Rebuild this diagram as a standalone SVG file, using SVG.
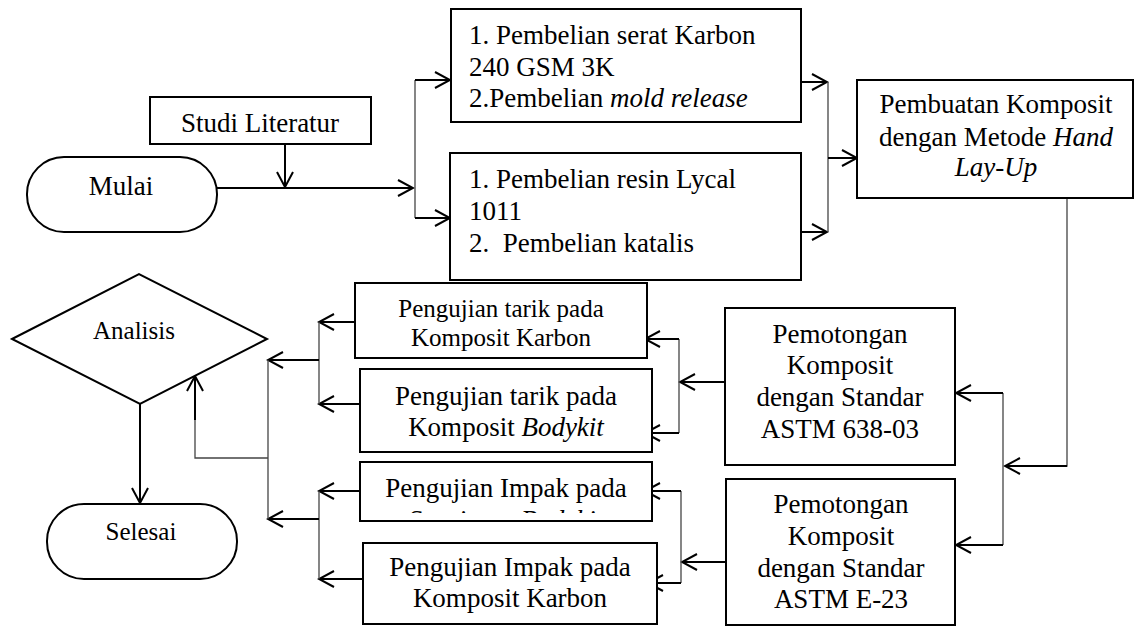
<svg xmlns="http://www.w3.org/2000/svg" width="1134" height="626" viewBox="0 0 1134 626">
<style>
.box{fill:#fff;stroke:#000;stroke-width:2}
.t{font-family:"Liberation Serif","Times New Roman",serif;font-size:27px;fill:#000}
.ts{font-family:"Liberation Serif","Times New Roman",serif;font-size:25px;fill:#000}
.c{text-anchor:middle}
.ln{fill:none;stroke:#000;stroke-width:2}
.thin{fill:none;stroke:#444;stroke-width:1.3}
</style>
<defs>
<marker id="arr" markerWidth="18" markerHeight="20" refX="16" refY="10" orient="auto" markerUnits="userSpaceOnUse">
<path d="M1,2 L16,10 L1,18" fill="none" stroke="#000" stroke-width="2"/>
</marker>
<clipPath id="clipP3"><rect x="360" y="462" width="292" height="51"/></clipPath>
</defs>

<g id="connectors">
<line class="ln" x1="285" y1="144" x2="285" y2="187" marker-end="url(#arr)"/>
<line class="ln" x1="217" y1="188" x2="413" y2="188" marker-end="url(#arr)"/>
<line class="thin" x1="415" y1="80" x2="415" y2="218"/>
<line class="ln" x1="415" y1="80" x2="450" y2="80" marker-end="url(#arr)"/>
<line class="ln" x1="415" y1="218" x2="450" y2="218" marker-end="url(#arr)"/>
<line class="ln" x1="801" y1="82" x2="827" y2="82" marker-end="url(#arr)"/>
<line class="ln" x1="801" y1="232" x2="827" y2="232" marker-end="url(#arr)"/>
<line class="thin" x1="828" y1="82" x2="828" y2="232"/>
<line class="ln" x1="828" y1="158" x2="857" y2="158" marker-end="url(#arr)"/>
<polyline class="thin" points="1067,198 1067,466 1005,466"/>
<line class="ln" x1="1067" y1="466" x2="1005" y2="466" marker-end="url(#arr)"/>
<line class="thin" x1="1003" y1="393" x2="1003" y2="545"/>
<line class="ln" x1="1003" y1="393" x2="956" y2="393" marker-end="url(#arr)"/>
<line class="ln" x1="1003" y1="545" x2="956" y2="545" marker-end="url(#arr)"/>
<line class="ln" x1="725" y1="382" x2="680" y2="382" marker-end="url(#arr)"/>
<line class="thin" x1="679" y1="339" x2="679" y2="433"/>
<line class="ln" x1="679" y1="339" x2="645" y2="339" marker-end="url(#arr)"/>
<line class="ln" x1="679" y1="433" x2="645" y2="433" marker-end="url(#arr)"/>
<line class="ln" x1="726" y1="562" x2="682" y2="562" marker-end="url(#arr)"/>
<line class="thin" x1="681" y1="491" x2="681" y2="583"/>
<line class="ln" x1="681" y1="491" x2="645" y2="491" marker-end="url(#arr)"/>
<line class="ln" x1="681" y1="583" x2="648" y2="583" marker-end="url(#arr)"/>
<line class="ln" x1="355" y1="322" x2="319" y2="322" marker-end="url(#arr)"/>
<line class="ln" x1="360" y1="404" x2="319" y2="404" marker-end="url(#arr)"/>
<line class="thin" x1="319" y1="322" x2="319" y2="404"/>
<line class="ln" x1="319" y1="360" x2="268" y2="360" marker-end="url(#arr)"/>
<line class="ln" x1="360" y1="491" x2="319" y2="491" marker-end="url(#arr)"/>
<line class="ln" x1="364" y1="579" x2="319" y2="579" marker-end="url(#arr)"/>
<line class="thin" x1="319" y1="491" x2="319" y2="579"/>
<line class="ln" x1="319" y1="519" x2="268" y2="519" marker-end="url(#arr)"/>
<line class="thin" x1="268" y1="360" x2="268" y2="519"/>
<polyline class="thin" points="268,458 195,458 195,420"/>
<line class="ln" x1="195" y1="420" x2="195" y2="376" marker-end="url(#arr)"/>
<line class="ln" x1="140" y1="404" x2="140" y2="503" marker-end="url(#arr)"/>
</g>

<g id="studi">
<rect class="box" x="150" y="97" width="221" height="47"/>
<text class="t c" x="260" y="132">Studi Literatur</text>
</g>

<g id="mulai">
<rect class="box" x="27" y="157" width="190" height="75" rx="37" ry="37"/>
<text class="t c" x="121" y="195">Mulai</text>
</g>

<g id="beli1">
<rect class="box" x="451" y="9" width="350" height="113"/>
<text class="t" x="469" y="44">1. Pembelian serat Karbon</text>
<text class="t" x="469" y="76">240 GSM 3K</text>
<text class="t" x="469" y="107">2.Pembelian <tspan font-style="italic">mold release</tspan></text>
</g>

<g id="beli2">
<rect class="box" x="450" y="153" width="351" height="127"/>
<text class="t" x="469" y="188">1. Pembelian resin Lycal</text>
<text class="t" x="469" y="220">1011</text>
<text class="t" x="469" y="252" xml:space="preserve">2.  Pembelian katalis</text>
</g>

<g id="pembuatan">
<rect class="box" x="857" y="80" width="276" height="118"/>
<text class="t c" x="996" y="113">Pembuatan Komposit</text>
<text class="t c" x="996" y="146">dengan Metode <tspan font-style="italic">Hand</tspan></text>
<text class="t c" x="996" y="176" font-style="italic">Lay-Up</text>
</g>

<g id="potong1">
<rect class="box" x="725" y="308" width="230" height="157"/>
<text class="t c" x="840" y="343">Pemotongan</text>
<text class="t c" x="840" y="374">Komposit</text>
<text class="t c" x="840" y="406">dengan Standar</text>
<text class="t c" x="840" y="438">ASTM 638-03</text>
</g>

<g id="potong2">
<rect class="box" x="726" y="479" width="229" height="146"/>
<text class="t c" x="841" y="513">Pemotongan</text>
<text class="t c" x="841" y="545">Komposit</text>
<text class="t c" x="841" y="577">dengan Standar</text>
<text class="t c" x="841" y="608">ASTM E-23</text>
</g>

<g id="tarik1">
<rect class="box" x="355" y="283" width="292" height="75"/>
<text class="ts c" x="501" y="317">Pengujian tarik pada</text>
<text class="ts c" x="501" y="346">Komposit Karbon</text>
</g>

<g id="tarik2">
<rect class="box" x="360" y="369" width="292" height="83"/>
<text class="t c" x="506" y="405">Pengujian tarik pada</text>
<text class="t c" x="506" y="436">Komposit <tspan font-style="italic">Bodykit</tspan></text>
</g>

<g id="impak1">
<rect class="box" x="360" y="462" width="292" height="59"/>
<text class="t c" x="506" y="497">Pengujian Impak pada</text>
<text class="t c" x="506" y="529" clip-path="url(#clipP3)">Spesimen <tspan font-style="italic">Bodykit</tspan></text>
</g>

<g id="impak2">
<rect class="box" x="363" y="543" width="294" height="81"/>
<text class="t c" x="510" y="576">Pengujian Impak pada</text>
<text class="t c" x="510" y="607">Komposit Karbon</text>
</g>

<g id="analisis">
<polygon class="box" points="12,339 139,274 267,339 140,404"/>
<text class="ts c" x="134" y="339">Analisis</text>
</g>

<g id="selesai">
<rect class="box" x="47" y="504" width="190" height="75" rx="37" ry="37"/>
<text class="ts c" x="141" y="540">Selesai</text>
</g>
</svg>
